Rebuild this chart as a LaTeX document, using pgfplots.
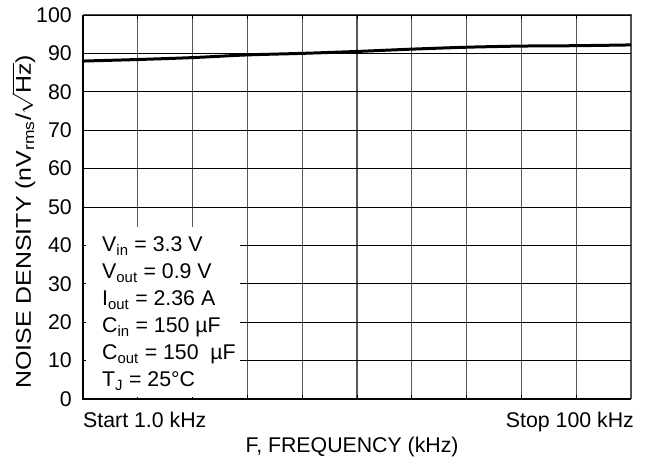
\documentclass[border=0pt]{standalone}
\usepackage{pgfplots}
\pgfplotsset{compat=1.18}
\usepackage{graphicx}
\usepackage{fontspec}
\setmainfont{Liberation Sans}
\newcommand{\fs}{\fontsize{21.3}{25}\selectfont}
\begin{document}
\fs
\begin{tikzpicture}
\begin{axis}[
  scale only axis, width=548pt, height=384pt,
  xmin=0, xmax=10, ymin=0, ymax=100,
  xtick={0,1,...,10}, xticklabels={},
  ytick={0,10,...,100},
  /pgf/number format/assume math mode=true,
  tick label style={font=\fs},
  yticklabel style={xshift=-4pt},
  tick align=inside, major tick length=4pt,
  tick style={black, line width=0.8pt},
  grid=major,
  x grid style={black!65, line width=1.1pt},
  y grid style={black, line width=0.9pt},
  axis line style={black!70, line width=1pt},
  clip=false,
  ylabel={\scalebox{1.17}[1]{NOISE DENSITY (nV\textsubscript{rms}/$\sqrt{\mbox{Hz}}$)}},
  ylabel style={at={(rel axis cs:-0.1085,0.461)}, anchor=center, font=\fs},
]
\addplot[black, line width=3pt, smooth] coordinates {
  (0,88.0) (1,88.4) (2,88.9) (3,89.6) (4,90.0) (5,90.5)
  (6,91.1) (7,91.6) (8,91.9) (9,92.0) (10,92.2)
};
\fill[white] (rel axis cs:0.0055,0.005) rectangle (rel axis cs:0.2865,0.448);
\draw[black, line width=2.6pt] (rel axis cs:0,1) -- (rel axis cs:0,0) -- (rel axis cs:1,0);
\node[anchor=base west, inner sep=0pt] at (rel axis cs:0.0347,0.3828) {V\textsubscript{in} = 3.3 V};
\node[anchor=base west, inner sep=0pt] at (rel axis cs:0.0347,0.3125) {V\textsubscript{out} = 0.9 V};
\node[anchor=base west, inner sep=0pt] at (rel axis cs:0.0347,0.2422) {I\textsubscript{out} = 2.36 A};
\node[anchor=base west, inner sep=0pt] at (rel axis cs:0.0347,0.1719) {C\textsubscript{in} = 150 µF};
\node[anchor=base west, inner sep=0pt] at (rel axis cs:0.0347,0.1016) {C\textsubscript{out} = 150 \ µF};
\node[anchor=base west, inner sep=0pt] at (rel axis cs:0.0347,0.03125) {T\textsubscript{J} = 25°C};
\node[anchor=base west, inner sep=0pt] at (rel axis cs:0,-0.0755) {Start 1.0 kHz};
\node[anchor=base east, inner sep=0pt] at (rel axis cs:1.0055,-0.0755) {Stop 100 kHz};
\node[anchor=base, inner sep=0pt] at (rel axis cs:0.491,-0.1406) {F, FREQUENCY (kHz)};
\path (rel axis cs:-0.1515,-0.1745) rectangle (rel axis cs:1.0255,1.039);
\end{axis}
\end{tikzpicture}
\end{document}
